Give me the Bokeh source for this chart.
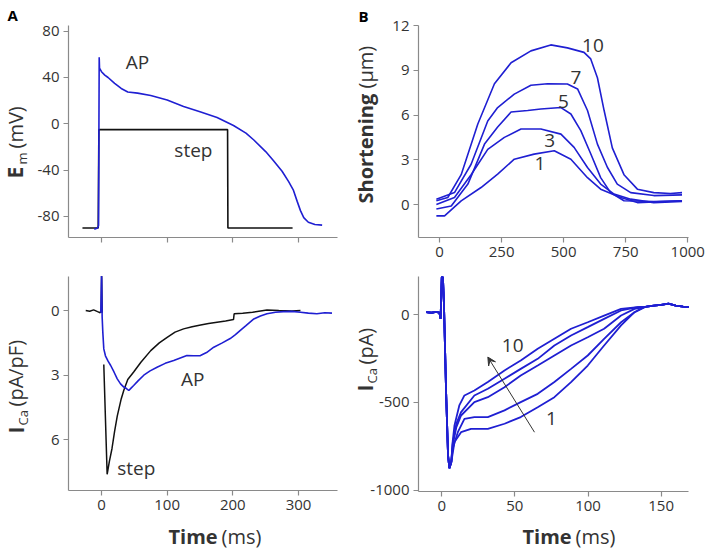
import math
from bokeh.plotting import figure
from bokeh.models import Range1d, FixedTicker, Label, Arrow, VeeHead
from bokeh.layouts import column, row
from bokeh.embed import file_html
from bokeh.resources import INLINE

NAN = float("nan")
FONT = "Open Sans"
BLUE = "#1f1fd2"
BLACK = "#111111"
TXT = "#333333"
AXC = "#8a8a8a"

# ---------------- Panel A (top): membrane potential ----------------
ap_t = [-11, -6, -4.5, -3.5, -3, 0, 5, 10, 20, 30, 40, 55, 75, 100, 125, 150, 176,
        201, 220, 232, 250, 262, 275, 285, 292, 298, 303, 308, 315, 325, 336]
ap_v = [-91, -90, -88, 57.5, 48, 45, 42, 40, 35, 30.5, 27.5, 26.5, 24.5, 20.5, 15, 10.5, 5.5,
        -1.5, -8, -14, -24, -32, -41, -50, -57, -67, -75, -81, -85, -87, -87.5]
step_t = [-29, -5, -4, 192, 192.5, 291]
step_v = [-90, -90, -5, -5, -90, -90]
a_top_xticks = [0, 100, 200, 300]
a_top_yticks = [-80, -40, 0, 40, 80]

# ---------------- Panel A (bottom): ICa density (plotted positive down) ----------------
ica_step_t = [-24, -18, -12, -6, -2, -0.5, 0.2, 1.0, NAN, 3.5, 8.6, 12, 16, 20, 24, 30, 34, 40,
              49, 60, 75, 88, 100, 112, 125, 138, 151, 163, 176, 189, 201, 202, 215, 230,
              252, 270, 290, 303]
ica_step_i = [0.0, 0.03, -0.03, 0.05, 0.1, 0.0, -1.6, 0.1, NAN, 2.5, 7.6, 7.0, 6.4, 5.6, 4.9, 4.1,
              3.7, 3.2, 2.85, 2.4, 1.86, 1.5, 1.24, 1.0, 0.85, 0.75, 0.67, 0.6, 0.54, 0.48,
              0.42, 0.15, 0.12, 0.08, -0.03, 0.0, 0.02, 0.0]
ica_ap_t = [-1, 0, 0.3, 1, 2, 3.5, 6, 10, 14, 19, 24, 29, 34, 38, 41.6, 45, 49, 56, 64.4, 74,
            84.6, 97, 110, 120, 130, 140, 150.7, 160, 171, 184, 196, 204, 211, 220, 232, 242,
            252, 265, 277, 290, 303, 315, 328, 340, 351]
ica_ap_i = [0.1, -1.6, -1.5, 0.3, 1.0, 1.78, 2.1, 2.35, 2.55, 2.85, 3.17, 3.4, 3.55, 3.62, 3.71,
            3.6, 3.48, 3.25, 3.0, 2.8, 2.63, 2.45, 2.32, 2.2, 2.09, 2.1, 2.09, 1.95, 1.7, 1.5,
            1.3, 1.12, 0.93, 0.7, 0.39, 0.25, 0.15, 0.08, 0.05, 0.04, 0.08, 0.12, 0.15, 0.1, 0.12]
a_bot_xticks = [0, 100, 200, 300]
a_bot_yticks = [0, 3, 6]

# ---------------- Panel B (top): shortening ----------------
sh10_t = [-13, 33, 87, 154, 221, 288, 368, 448, 515, 582, 609, 636, 663, 696, 743, 797, 863, 930, 977]
sh10_v = [0.25, 0.47, 2.0, 5.4, 8.1, 9.5, 10.3, 10.7, 10.5, 10.2, 9.76, 8.5, 6.3, 3.8, 2.0, 1.03, 0.8, 0.74, 0.8]
sh7_t = [-13, 60, 127, 194, 234, 301, 368, 435, 515, 556, 596, 636, 676, 716, 770, 863, 977]
sh7_v = [0.36, 0.8, 2.7, 5.6, 6.5, 7.4, 8.0, 8.1, 8.08, 7.75, 6.3, 4.05, 2.5, 1.37, 0.8, 0.6, 0.65]
sh5_t = [-13, 47, 114, 181, 234, 288, 355, 408, 489, 529, 569, 609, 649, 689, 743, 863, 977]
sh5_v = [-0.3, -0.1, 1.37, 4.05, 5.2, 6.2, 6.3, 6.4, 6.5, 6.07, 4.95, 3.4, 1.8, 0.8, 0.25, 0.2, 0.25]
sh3_t = [-13, 60, 127, 194, 261, 328, 408, 489, 542, 596, 649, 703, 770, 863, 977]
sh3_v = [0.0, 0.47, 2.0, 3.7, 4.5, 5.06, 5.06, 4.72, 3.83, 2.48, 1.37, 0.7, 0.36, 0.13, 0.2]
sh1_t = [-13, 20, 87, 167, 234, 301, 381, 462, 529, 596, 649, 730, 797, 977]
sh1_v = [-0.76, -0.76, 0.25, 1.14, 2.04, 3.04, 3.38, 3.6, 3.04, 1.8, 1.03, 0.47, 0.13, 0.25]
sh_labels = ["10", "7", "5", "3", "1"]
sh_label_t = [618, 549, 499, 444, 404]
sh_label_v = [10.66, 8.5, 6.9, 4.28, 2.78]
b_top_xticks = [0, 250, 500, 750, 1000]
b_top_yticks = [0, 3, 6, 9, 12]

# ---------------- Panel B (bottom): ICa (pA) ----------------
pre_t = [-10.7, -7, -4, -1.6, -0.8, 0, 0.8, 1.5, 3, 4.3, 5.2, 6.5]
pre_i = [13, 10, 15, 10, -25, 212, 212, 60, -450, -800, -873, -840]
c1_t = [8.7, 13.2, 20, 31.5, 42.9, 54, 65.6, 77, 88.4, 99.8, 111, 122.6, 131.8, 138.6]
c1_i = [-725, -669, -650, -650, -621, -583, -527, -470, -384, -290, -176, -62, 13, 42]
c3_t = [7.5, 11, 15.5, 22.3, 31.5, 42.9, 54, 65.6, 77, 88.4, 99.8, 111, 122.6, 131.8, 138.6]
c3_i = [-760, -669, -593, -583, -583, -545, -498, -451, -384, -309, -233, -138, -44, 13, 42]
c5_t = [7.5, 10, 13.2, 22.3, 31.5, 42.9, 54, 65.6, 77, 88.4, 99.8, 111, 122.6, 131.8, 138.6]
c5_i = [-740, -640, -574, -498, -470, -413, -347, -290, -233, -176, -129, -81, -6, 32, 42]
c7_t = [7.5, 10, 13.2, 22.3, 31.5, 42.9, 54, 65.6, 77, 88.4, 99.8, 111, 122.6, 134]
c7_i = [-730, -620, -555, -460, -422, -365, -309, -252, -176, -119, -72, -25, 23, 42]
c10_t = [7.5, 8.7, 12, 15.5, 22.3, 31.5, 42.9, 54, 65.6, 77, 88.4, 99.8, 111, 122.6, 134]
c10_i = [-720, -630, -517, -460, -432, -384, -318, -261, -195, -138, -81, -44, -6, 32, 42]
tail_t = [140, 145, 150, 155, 160, 165, 169]
tail_i = [45, 51, 55, 62, 50, 45, 42]
b_bot_xticks = [0, 50, 100, 150]
b_bot_yticks = [-1000, -500, 0]


def make_panel(fx, fy, fw, fh, L, T, R, B, xr, yr, xticks, yticks, xlabels=True):
    """Figure canvas at page box (fx,fy,fw,fh); the axes box is L,T,R,B in page pixels
    with data values xr=(left,right) and yr=(bottom,top) at its edges.  The frame covers
    the whole canvas; axes are drawn at fixed locations so outside texts are not clipped."""
    sx = (xr[1] - xr[0]) / (R - L)
    sy = (yr[1] - yr[0]) / (B - T)
    x0 = xr[0] - (L - fx) * sx
    x1 = xr[1] + (fx + fw - R) * sx
    y0 = yr[0] - (fy + fh - B) * sy
    y1 = yr[1] + (T - fy) * sy
    p = figure(width=fw, height=fh, x_range=Range1d(x0, x1), y_range=Range1d(y0, y1),
               output_backend="svg", toolbar_location=None,
               min_border_left=0, min_border_right=0, min_border_top=0, min_border_bottom=0)
    p.outline_line_color = None
    p.grid.visible = False
    p.background_fill_color = "white"
    p.border_fill_color = "white"
    p.xaxis.ticker = FixedTicker(ticks=xticks)
    p.yaxis.ticker = FixedTicker(ticks=yticks)
    p.xaxis.fixed_location = yr[0]
    p.xaxis.bounds = (min(xr), max(xr))
    p.yaxis.fixed_location = xr[0]
    p.yaxis.bounds = (min(yr), max(yr))
    for ax in list(p.xaxis) + list(p.yaxis):
        ax.axis_line_color = AXC
        ax.axis_line_width = 1.2
        ax.major_tick_line_color = AXC
        ax.major_tick_line_width = 1.2
        ax.minor_tick_line_color = None
        ax.major_tick_in = 0
        ax.major_tick_out = 5
        ax.major_label_text_font = FONT
        ax.major_label_text_font_size = "15px"
        ax.major_label_text_color = TXT
        ax.major_label_standoff = 4
    p.xaxis.major_label_overrides = {t: (str(t) if xlabels else "") for t in xticks}
    p.yaxis.major_label_overrides = {t: str(t) for t in yticks}

    def to_data(px, py):
        return x0 + (px - fx) * sx, y0 + (fy + fh - py) * sy
    return p, to_data


def page_text(p, conv, px, py, text, size, bold=False, rotated=False, color=TXT):
    """(px, py): start of the text on its baseline, in page pixels.  The label is anchored
    at the middle of the capitals, 0.36 em above (or, when rotated, left of) the baseline."""
    shift = 0.36 * size
    if rotated:
        px -= shift
    else:
        py -= shift
    x, y = conv(px, py)
    p.add_layout(Label(x=x, y=y, text=text, text_font=FONT, text_font_size=f"{size}px",
                       text_font_style="bold" if bold else "normal", text_color=color,
                       angle=(math.pi / 2 if rotated else 0.0),
                       text_align="left", text_baseline="middle"))


def data_text(p, x, y, text, size=19):
    p.add_layout(Label(x=x, y=y, text=text, text_font=FONT, text_font_size=f"{size}px",
                       text_color=TXT, text_align="center", text_baseline="middle"))


SPLIT = 346   # page x where the left-hand figures end and the right-hand ones begin
W_L, W_R, H = SPLIT, 708 - SPLIT, 275

# ---- top-left ----
pA1, cA1 = make_panel(0, 0, W_L, H, 68, 25, 337, 237, (-50.25, 359.4), (-98.2, 84.9),
                      a_top_xticks, a_top_yticks, xlabels=False)
pA1.line(step_t, step_v, line_color=BLACK, line_width=1.6)
pA1.line(ap_t, ap_v, line_color=BLUE, line_width=1.6)
data_text(pA1, 54.6, 53, "AP")
data_text(pA1, 140, -23, "step")
page_text(pA1, cA1, 7, 20, "A", 15, bold=True, color="#000000")
page_text(pA1, cA1, 22, 178, "E", 21, bold=True, rotated=True)
page_text(pA1, cA1, 26, 164, "m", 13, rotated=True)
page_text(pA1, cA1, 22, 148, "(mV)", 20, rotated=True)

# ---- top-right ----
pB1, cB1 = make_panel(SPLIT, 0, W_R, H, 418, 25, 688, 237, (-85, 1003), (-2.21, 12.0),
                      b_top_xticks, b_top_yticks)
for tt, vv in [(sh10_t, sh10_v), (sh7_t, sh7_v), (sh5_t, sh5_v), (sh3_t, sh3_v), (sh1_t, sh1_v)]:
    pB1.line(tt, vv, line_color=BLUE, line_width=1.6)
for lab, lt, lv in zip(sh_labels, sh_label_t, sh_label_v):
    data_text(pB1, lt, lv, lab)
page_text(pB1, cB1, 358, 21, "B", 15, bold=True, color="#000000")
page_text(pB1, cB1, 372, 203, "Shortening", 20, bold=True, rotated=True)
page_text(pB1, cB1, 372, 88, "(\u00b5m)", 20, rotated=True)

# ---- bottom-left ----
pA2, cA2 = make_panel(0, H, W_L, H, 68, 276, 337, 490, (-50.25, 359.4), (8.35, -1.58),
                      a_bot_xticks, a_bot_yticks)
pA2.line(ica_step_t, ica_step_i, line_color=BLACK, line_width=1.5)
pA2.line(ica_ap_t, ica_ap_i, line_color=BLUE, line_width=1.6)
data_text(pA2, 139, 3.17, "AP")
data_text(pA2, 53, 7.3, "step")
page_text(pA2, cA2, 23, 433, "I", 21, bold=True, rotated=True)
page_text(pA2, cA2, 27, 425, "Ca", 13, rotated=True)
page_text(pA2, cA2, 22, 406, "(pA/pF)", 20, rotated=True)
page_text(pA2, cA2, 168, 543, "Time", 20, bold=True)
page_text(pA2, cA2, 221, 543, "(ms)", 20)

# ---- bottom-right ----
pB2, cB2 = make_panel(SPLIT, H, W_R, H, 418, 276, 688, 491, (-15.9, 168.7), (-1006, 216),
                      b_bot_xticks, b_bot_yticks)
for ct, ci in [(c1_t, c1_i), (c3_t, c3_i), (c5_t, c5_i), (c7_t, c7_i), (c10_t, c10_i)]:
    pB2.line(pre_t + ct + tail_t, pre_i + ci + tail_i, line_color=BLUE, line_width=1.8)
pB2.add_layout(Arrow(end=VeeHead(size=8, line_color=TXT, fill_color=TXT, line_width=1),
                     x_start=63.4, y_start=-669, x_end=31.5, y_end=-242,
                     line_color=TXT, line_width=1))
data_text(pB2, 48.5, -176, "10")
data_text(pB2, 75, -593, "1")
page_text(pB2, cB2, 372, 391, "I", 21, bold=True, rotated=True)
page_text(pB2, cB2, 376, 383, "Ca", 13, rotated=True)
page_text(pB2, cB2, 372, 364, "(pA)", 20, rotated=True)
page_text(pB2, cB2, 522, 543, "Time", 20, bold=True)
page_text(pB2, cB2, 575, 543, "(ms)", 20)

layout = column(row(pA1, pB1), row(pA2, pB2))
open("out.html", "w").write(file_html(layout, INLINE))
